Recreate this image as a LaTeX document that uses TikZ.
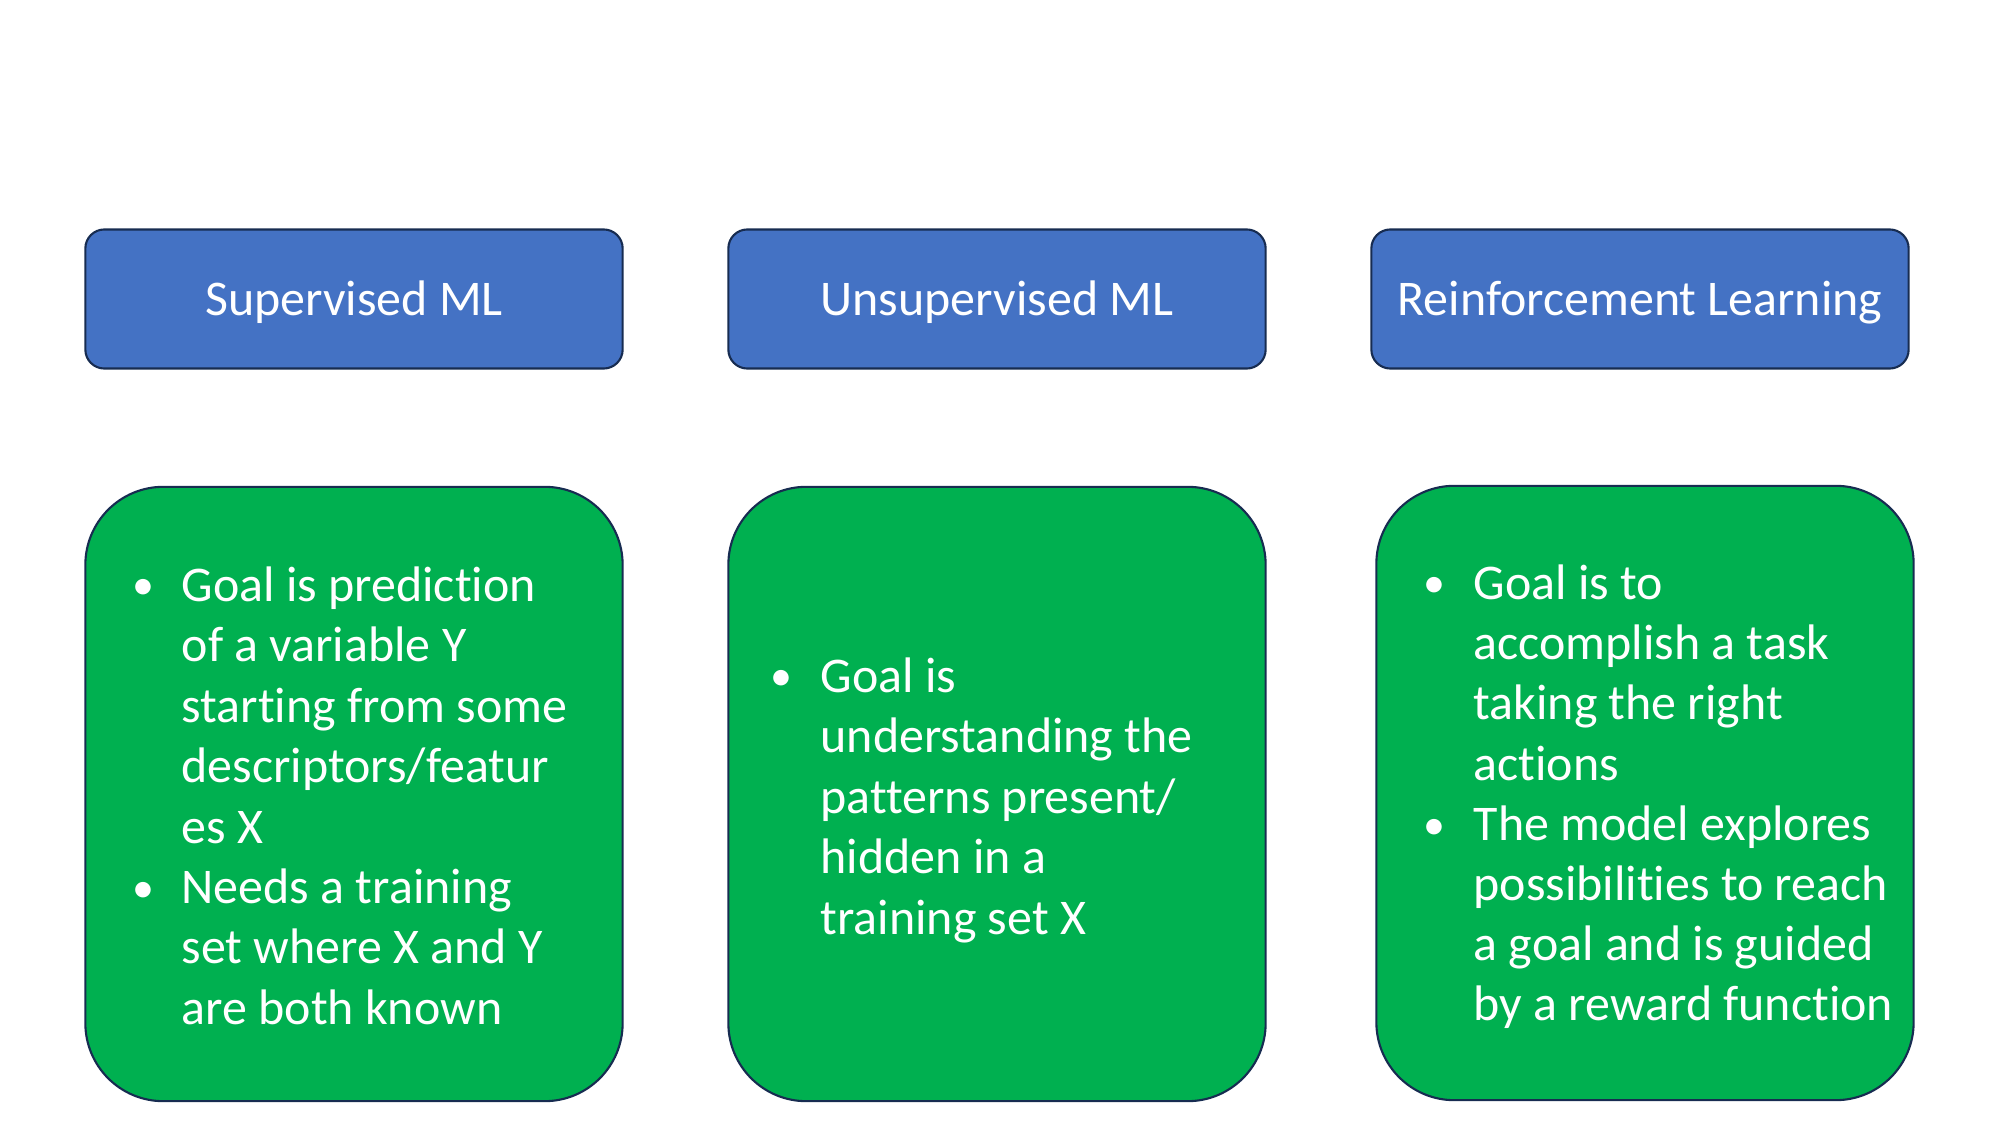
\documentclass[tikz,border=0pt]{standalone}
\usepackage{fontspec}
\setmainfont[Ligatures={NoCommon,NoContextual}]{Carlito}
\begin{document}
\definecolor{hdrblue}{HTML}{4472C4}
\definecolor{bodygreen}{HTML}{00B050}
\definecolor{outline}{HTML}{172C51}
\begin{tikzpicture}[x=0.01cm, y=-0.01cm,
  header/.style={draw=outline, fill=hdrblue, line width=0.6pt, rounded corners=0.19cm,
    minimum width=5.37cm, minimum height=1.39cm, inner sep=0pt, text=white,
    text height=0.42cm, text depth=0.10cm,
    font=\fontsize{14.2pt}{17pt}\selectfont},
  panel/.style={draw=outline, fill=bodygreen, line width=0.6pt, rounded corners=0.78cm,
    minimum width=5.37cm, minimum height=6.14cm, inner sep=0pt},
  line/.style={anchor=base west, inner sep=0pt, text=white,
    font=\fontsize{14.2pt}{17pt}\selectfont},
  dot/.style={anchor=base, inner sep=0pt, text=white,
    font=\fontsize{12.5pt}{17pt}\selectfont}]
\path[use as bounding box] (0,0) rectangle (2000,1125);

% column headers
\node[header] (hsup) at (354,299) {Supervised ML};
\node[header] (hunsup) at (997,299) {Unsupervised ML};
\node[header] (hrl) at (1640,299) {Reinforcement Learning};

% green panels
\node[panel] (psup) at (354,794) {};
\node[panel] (punsup) at (997,794) {};
\node[panel] (prl) at (1645,793) {};

% supervised panel text
\node[dot] (sb1) at (143,600) {•};
\node[dot] (sb2) at (143,902) {•};
\foreach \t [count=\i] in {Goal is prediction, of a variable Y, starting from some,
    descriptors/featur, es X, Needs a training, set where X and Y, are both known}
  \node[line] (s\i) at (181,{601.5+(\i-1)*60.4}) {\t};

% unsupervised panel text
\node[dot] (ub1) at (781,691) {•};
\foreach \t [count=\i] in {Goal is, understanding the, patterns present/,
    hidden in a, training set X}
  \node[line] (u\i) at (820,{692.5+(\i-1)*60.4}) {\t};

% reinforcement panel text
\node[dot] (rb1) at (1434,598) {•};
\node[dot] (rb2) at (1434,839) {•};
\foreach \t [count=\i] in {Goal is to, accomplish a task, taking the right, actions,
    The model explores, possibilities to reach, a goal and is guided, by a reward function}
  \node[line] (r\i) at (1473,{599.5+(\i-1)*60.2}) {\t};
\end{tikzpicture}
\end{document}
